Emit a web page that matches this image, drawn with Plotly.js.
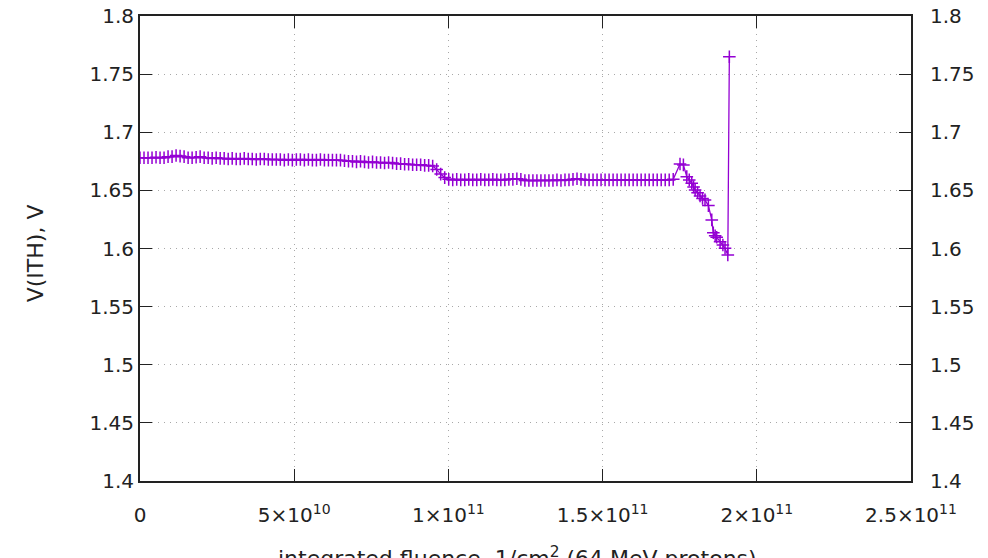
<!DOCTYPE html>
<html>
<head>
<meta charset="utf-8">
<script src="https://cdn.plot.ly/plotly-3.0.1.min.js"></script>
<style>html,body{margin:0;padding:0;background:#fff;}#chart{width:988px;height:558px;}</style>
</head>
<body>
<div id="chart"></div>
<script>
// fluence in units of 1e9 protons/cm^2
const fluence = [
  0,1.3,2.6,3.9,5.2,6.5,7.8,9.1,10.4,11.7,
  13.0,14.3,15.6,16.9,18.2,19.5,20.8,22.1,23.4,24.7,
  26.0,27.3,28.6,29.9,31.2,32.5,33.8,35.1,36.4,37.7,
  39.0,40.3,41.6,42.9,44.2,45.5,46.8,48.1,49.4,50.7,
  52.0,53.3,54.6,55.9,57.2,58.5,59.8,61.1,62.4,63.7,
  65.0,66.3,67.6,68.9,70.2,71.5,72.8,74.1,75.4,76.7,
  78.0,79.3,80.6,81.9,83.2,84.5,85.8,87.1,88.4,89.7,
  91.0,92.3,93.6,94.9,96.2,97.5,98.8,100.1,101.4,102.7,
  104.0,105.3,106.6,107.9,109.2,110.5,111.8,113.1,114.4,115.7,
  117.0,118.3,119.6,120.9,122.2,123.5,124.8,126.1,127.4,128.7,
  130.0,131.3,132.6,133.9,135.2,136.5,137.8,139.1,140.4,141.7,
  143.0,144.3,145.6,146.9,148.2,149.5,150.8,152.1,153.4,154.7,
  156.0,157.3,158.6,159.9,161.2,162.5,163.8,165.1,166.4,167.7,
  169.0,170.3,171.6,172.9,175.1,176.2,177.3,178.1,178.9,179.5,
  180.0,180.8,181.6,182.4,183.2,184.3,185.4,185.9,186.5,187.0,
  188.1,189.0,189.7,190.6,191.1
];
// V(ITH), volts
const vith = [
  1.678,1.678,1.678,1.678,1.6785,1.678,1.678,1.679,1.679,1.680,
  1.6795,1.679,1.678,1.678,1.6785,1.679,1.678,1.678,1.6775,1.678,
  1.6775,1.6775,1.677,1.6775,1.677,1.677,1.6775,1.677,1.677,1.6765,
  1.677,1.677,1.6765,1.6765,1.6765,1.6765,1.676,1.6765,1.676,1.6765,
  1.6765,1.676,1.6765,1.676,1.676,1.6765,1.676,1.676,1.676,1.676,
  1.676,1.6755,1.675,1.675,1.6745,1.675,1.6745,1.674,1.6745,1.674,
  1.674,1.6735,1.674,1.6735,1.673,1.673,1.6725,1.6725,1.672,1.672,
  1.672,1.6715,1.6715,1.671,1.668,1.664,1.661,1.6595,1.659,1.6595,
  1.659,1.659,1.6595,1.659,1.659,1.6595,1.659,1.659,1.6595,1.659,
  1.659,1.659,1.6595,1.6595,1.660,1.6595,1.6585,1.6585,1.6585,1.6585,
  1.6585,1.6585,1.6585,1.6585,1.659,1.6585,1.659,1.659,1.6595,1.660,
  1.6595,1.659,1.659,1.659,1.659,1.659,1.659,1.659,1.659,1.659,
  1.659,1.659,1.659,1.659,1.659,1.659,1.659,1.659,1.659,1.659,
  1.659,1.659,1.659,1.6595,1.6727,1.6719,1.6618,1.659,1.6561,1.653,
  1.6504,1.648,1.6452,1.643,1.6418,1.6369,1.6246,1.6136,1.611,1.6097,
  1.6059,1.603,1.6002,1.5945,1.765
];
const xTickVals = [0,50,100,150,200,250];
const xTickText = ['0','5×10<sup>10</sup>','1×10<sup>11</sup>','1.5×10<sup>11</sup>','2×10<sup>11</sup>','2.5×10<sup>11</sup>'];
const yTitle = 'V(ITH), V';
const xTitle = 'integrated fluence, 1/cm<sup>2</sup> (64 MeV protons)';

const FONT = 'DejaVu Sans, Verdana, sans-serif';
const TXT = '#222';
const TICKSIZE = 20;
const traces = [
  {x: fluence, y: vith, type: 'scatter', mode: 'lines+markers',
   line: {color: '#9400D3', width: 1.3},
   marker: {symbol: 'cross-thin-open', size: 9, color: '#9400D3', line: {color: '#9400D3', width: 1.5}},
   hoverinfo: 'x+y', showlegend: false},
  {x: fluence, y: vith, type: 'scatter', mode: 'lines', yaxis: 'y2',
   line: {color: 'rgba(0,0,0,0)', width: 0}, hoverinfo: 'skip', showlegend: false}
];
const layout = {
  width: 988, height: 558,
  margin: {l: 140, r: 77, t: 16, b: 77},
  paper_bgcolor: '#fff', plot_bgcolor: '#fff',
  font: {family: FONT, size: TICKSIZE, color: TXT},
  showlegend: false,
  xaxis: {
    range: [0, 250], tickmode: 'array', tickvals: xTickVals, ticktext: xTickText,
    showgrid: true, gridcolor: '#a8a8a8', griddash: '1px,5px', gridwidth: 1,
    ticks: 'inside', ticklen: 12, tickcolor: TXT, tickwidth: 1,
    showline: true, linecolor: TXT, linewidth: 2, mirror: 'ticks',
    zeroline: false, tickfont: {family: FONT, size: TICKSIZE, color: TXT},
    ticklabelstandoff: 15
  },
  yaxis: {
    range: [1.4, 1.8], dtick: 0.05, tick0: 1.4,
    showgrid: true, gridcolor: '#a8a8a8', griddash: '1px,5px', gridwidth: 1,
    ticks: 'inside', ticklen: 12, tickcolor: TXT, tickwidth: 1,
    showline: true, linecolor: TXT, linewidth: 2, mirror: 'ticks',
    zeroline: false, tickfont: {family: FONT, size: TICKSIZE, color: TXT},
    ticklabelstandoff: 0
  },
  yaxis2: {
    overlaying: 'y', side: 'right', range: [1.4, 1.8], dtick: 0.05, tick0: 1.4,
    showgrid: false, ticks: '', showline: false, zeroline: false,
    tickfont: {family: FONT, size: TICKSIZE, color: TXT}, ticklabelstandoff: 18
  },
  annotations: [
    {text: yTitle, xref: 'paper', yref: 'paper', x: -0.136, y: 0.49,
     xanchor: 'center', yanchor: 'middle', textangle: -90, showarrow: false,
     font: {family: FONT, size: 22, color: TXT}},
    {text: xTitle, xref: 'paper', yref: 'paper', x: 0.49, y: -0.13,
     xanchor: 'center', yanchor: 'top', showarrow: false,
     font: {family: FONT, size: 22, color: TXT}}
  ]
};
Plotly.newPlot('chart', traces, layout, {displayModeBar: false, staticPlot: true});
</script>
</body>
</html>
